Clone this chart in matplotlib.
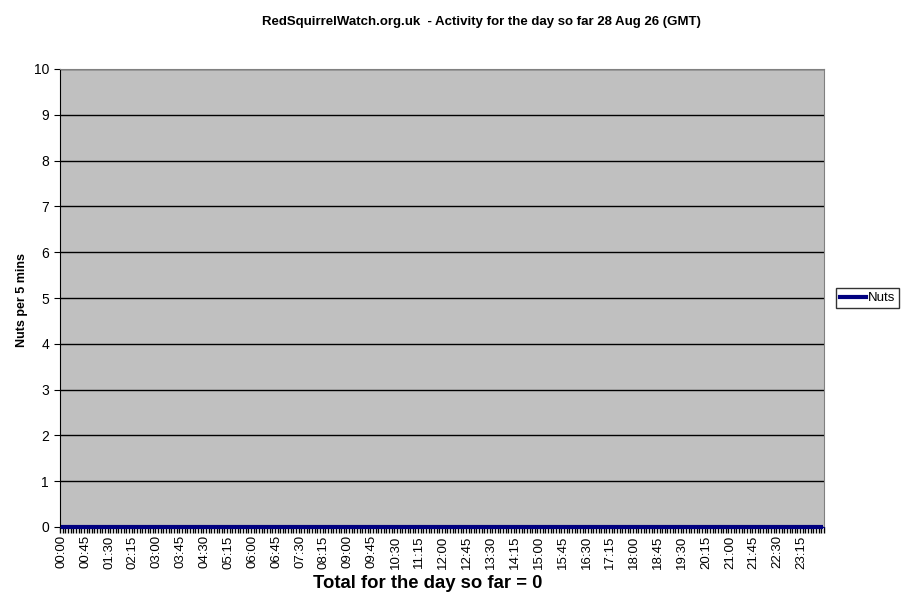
import numpy as np
import matplotlib.pyplot as plt
from matplotlib.lines import Line2D

plt.rcParams['font.family'] = ['Liberation Sans', 'DejaVu Sans']

# 5-minute slots for the day, all zero so far
times = ['%02d:%02d' % (m // 60, m % 60) for m in range(0, 24 * 60, 5)]
nuts = [0] * 288
title = 'RedSquirrelWatch.org.uk  - Activity for the day so far 28 Aug 26 (GMT)'
total_text = 'Total for the day so far = 0'

fig = plt.figure(figsize=(9.03, 6.15), dpi=100)
ax = fig.add_axes([60/903, 88/615, 764/903, 458/615])
ax.set_facecolor('#c0c0c0')

x = np.arange(len(nuts))
ax.plot(x, nuts, color='#000080', lw=3, solid_capstyle='butt', clip_on=False, zorder=5)

ax.set_xlim(-0.5, len(nuts) - 0.5)
ax.set_ylim(0, 10)
ax.set_yticks(range(0, 11))
ax.grid(axis='y', color='black', lw=1)
ax.set_axisbelow(True)

lab_idx = x[::9]
ax.set_xticks(lab_idx)
ax.set_xticklabels([times[i] for i in lab_idx], rotation=90)
ax.set_xticks(np.arange(-0.5, len(nuts)), minor=True)
ax.tick_params(axis='x', which='major', length=0, pad=6, labelsize=9.5)
ax.tick_params(axis='x', which='minor', length=4, width=1, color='black', direction='out')
ax.tick_params(axis='y', length=4, labelsize=10, pad=4)

for s in ['top', 'right']:
    ax.spines[s].set_color('#808080')
ax.spines['left'].set_color('black')
ax.spines['bottom'].set_color('#000080')

fig.text(481/903, 1 - 22/615, title, ha='center', va='center', fontsize=9.5, fontweight='bold')
fig.text(428/903, 1 - 584/615, total_text, ha='center', va='center', fontsize=13.3, fontweight='bold')
fig.text(22/903, 1 - 300/615, 'Nuts per 5 mins', ha='center', va='center', rotation=90,
         fontsize=9, fontweight='bold')

h = [Line2D([], [], color='#000080', lw=3)]
leg = fig.legend(h, ['Nuts'], loc='center', bbox_to_anchor=(867.5/903, 1 - 298/615),
                 frameon=True, fancybox=False, edgecolor='black', fontsize=9.5,
                 handlelength=2.0, handletextpad=0.1, borderpad=0.3, borderaxespad=0)
leg.get_frame().set_linewidth(1)

fig.savefig('out.png', dpi=100)
